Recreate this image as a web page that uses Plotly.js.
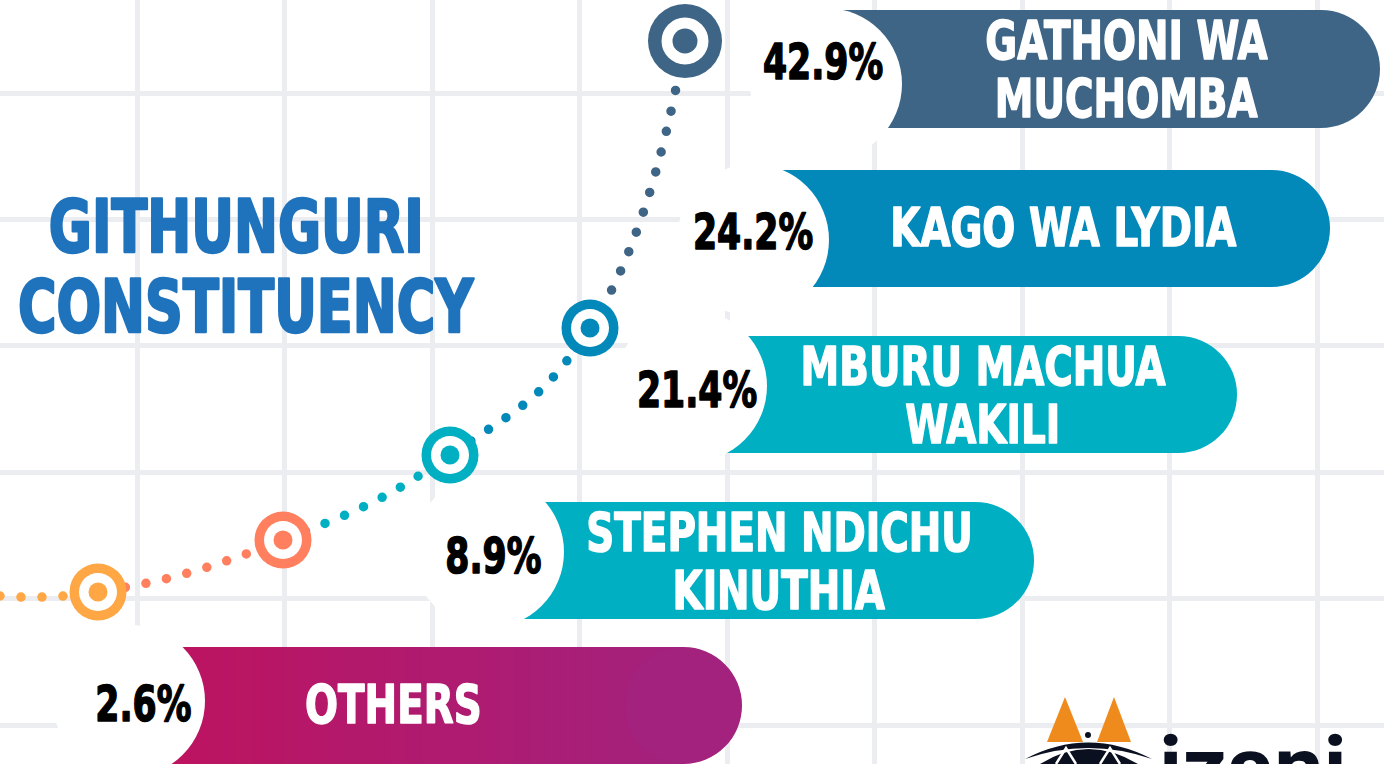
<!DOCTYPE html>
<html>
<head>
<meta charset="utf-8">
<script src="https://cdn.plot.ly/plotly-3.0.1.min.js"></script>
<style>
  html, body { margin: 0; padding: 0; background: #ffffff; overflow: hidden; }
  #chart { width: 1384px; height: 764px; }
</style>
</head>
<body>
<div id="chart"></div>
<script>
// ---------------- DATA ----------------
var titleLines = ['GITHUNGURI', 'CONSTITUENCY'];
var candidates = ['GATHONI WA<br>MUCHOMBA', 'KAGO WA LYDIA', 'MBURU MACHUA<br>WAKILI', 'STEPHEN NDICHU<br>KINUTHIA', 'OTHERS'];
var shares = [42.9, 24.2, 21.4, 8.9, 2.6];

// ---------------- STYLE ----------------
var pillColors = ['#3E6585', '#0288B9', '#01AFC3', '#01AFC3', null];
var othersGradient = ['#BC1461', '#A02380'];
var markerColors = ['#3E6585', '#0288B9', '#01AFC3', '#FF7F5F', '#FFA645'];
var titleColor = '#1F73BC';
var gridColor = '#ECEDF0';
var condensed = "'DejaVu Sans Condensed', 'DejaVu Sans', sans-serif";
var squeeze = {title: 0.80, pct: 0.77, label: 0.80, logo: 1.0};   // horizontal condensing of the bold face
var heavy = {title: 2.6, pct: 1.5, label: 1.5, logo: 0};         // extra stroke to mimic the heavy display face

// ---------------- DECORATIVE LAYOUT (pixel space of the 1384x764 canvas) ----------------
var W = 1384, H = 764;
var pillTop    = [10, 170, 336, 502, 647];
var pillBottom = [128, 287, 453, 619, 764];
var pillRight  = [1380, 1330, 1237, 1034, 742];
var badgeX = [826, 753, 691, 488, 129];
var badgeY = [84, 240, 386, 552, 701];
var badgeR = 76;
var pctX = [823, 753, 697, 493, 143];
var pctY = [62, 232, 390, 556, 704];
var labelX = [1126, 1063, 983, 779, 393];
var labelLinePitch = 58;
var markerX = [685, 590, 450, 283, 98];
var markerY = [41, 328, 455, 540, 592];
var markerOuter = [74, 57, 57, 57, 57];
var markerWhite = [47, 38, 38, 38, 38];
var markerInner = [25, 19, 19, 19, 19];
var lineStart = [0, 596];
var titleX = [236, 246], titleY = [226, 306];

// ---------------- helpers ----------------
function hex2rgb(h) { return [parseInt(h.substr(1,2),16), parseInt(h.substr(3,2),16), parseInt(h.substr(5,2),16)]; }
function mix(a, b, t) {
  var A = hex2rgb(a), B = hex2rgb(b);
  return 'rgb(' + Math.round(A[0]+(B[0]-A[0])*t) + ',' + Math.round(A[1]+(B[1]-A[1])*t) + ',' + Math.round(A[2]+(B[2]-A[2])*t) + ')';
}

// ---------------- shapes: pills & badges ----------------
var shapes = [];
for (var i = 0; i < candidates.length; i++) {
  var t = pillTop[i], b = pillBottom[i], r = (b - t) / 2, right = pillRight[i], left = badgeX[i];
  if (pillColors[i]) {
    shapes.push({type: 'rect', layer: 'between', xref: 'x', yref: 'y', x0: left, x1: right - r, y0: t, y1: b,
                 fillcolor: pillColors[i], line: {width: 0}});
    shapes.push({type: 'circle', layer: 'between', xref: 'x', yref: 'y', x0: right - 2*r, x1: right, y0: t, y1: b,
                 fillcolor: pillColors[i], line: {width: 0}});
  } else {
    var gx0 = left + badgeR * 0.7, gx1 = right;
    var n = 36, span = (right - r) - left;
    for (var k = 0; k < n; k++) {
      var xa = left + span * k / n, xb = left + span * (k + 1) / n;
      var tt = Math.max(0, Math.min(1, ((xa + xb) / 2 - gx0) / (gx1 - gx0)));
      shapes.push({type: 'rect', layer: 'between', xref: 'x', yref: 'y', x0: xa, x1: xb + 1, y0: t, y1: b,
                   fillcolor: mix(othersGradient[0], othersGradient[1], tt), line: {width: 0}});
    }
    shapes.push({type: 'circle', layer: 'between', xref: 'x', yref: 'y', x0: right - 2*r, x1: right, y0: t, y1: b,
                 fillcolor: mix(othersGradient[0], othersGradient[1], 0.93), line: {width: 0}});
  }
  shapes.push({type: 'circle', layer: 'between', xref: 'x', yref: 'y',
               x0: badgeX[i] - badgeR, x1: badgeX[i] + badgeR, y0: badgeY[i] - badgeR, y1: badgeY[i] + badgeR,
               fillcolor: '#ffffff', line: {width: 0}});
}

// logo (decorative mark, bottom right)
var logoOrange = '#EF8A1D', logoDark = '#0B1020';
shapes.push({type: 'path', layer: 'above', xref: 'x', yref: 'y', path: 'M1047,742 L1065,697 L1083,742 Z', fillcolor: logoOrange, line: {width: 0}});
shapes.push({type: 'path', layer: 'above', xref: 'x', yref: 'y', path: 'M1097,742 L1114,697 L1131,742 Z', fillcolor: logoOrange, line: {width: 0}});
shapes.push({type: 'circle', layer: 'above', xref: 'x', yref: 'y', x0: 1085, x1: 1091, y0: 732, y1: 738, fillcolor: logoDark, line: {width: 0}});
shapes.push({type: 'path', layer: 'above', xref: 'x', yref: 'y', path: 'M1025,759 Q1088,726 1152,759 Q1088,737 1025,759 Z', fillcolor: logoDark, line: {width: 0}});
shapes.push({type: 'path', layer: 'above', xref: 'x', yref: 'y', path: 'M1040,764 Q1088,734 1138,764 Z', fillcolor: logoDark, line: {width: 0}});
shapes.push({type: 'path', layer: 'above', xref: 'x', yref: 'y', path: 'M1056,764 L1066,748 L1076,764 M1100,764 L1110,748 L1120,764', line: {color: '#ffffff', width: 2.5}});

// ---------------- traces: dotted connector & target markers ----------------
var lineX = [lineStart[0]].concat(markerX.slice().reverse());
var lineY = [lineStart[1]].concat(markerY.slice().reverse());
var traces = [
  {type: 'scatter', mode: 'lines', x: lineX, y: lineY, hoverinfo: 'skip', showlegend: false,
   line: {shape: 'spline', smoothing: 1.3, width: 9.5, dash: '0px,21px', color: markerColors[0]}},
  {type: 'scatter', mode: 'markers', x: markerX, y: markerY, hoverinfo: 'skip', showlegend: false,
   marker: {size: markerOuter, color: markerColors, opacity: 1, line: {width: 0}}},
  {type: 'scatter', mode: 'markers', x: markerX, y: markerY, hoverinfo: 'skip', showlegend: false,
   marker: {size: markerWhite, color: '#ffffff', opacity: 1, line: {width: 0}}},
  {type: 'scatter', mode: 'markers', x: markerX, y: markerY, hoverinfo: 'skip', showlegend: false,
   marker: {size: markerInner, color: markerColors, opacity: 1, line: {width: 0}}}
];

// ---------------- annotations ----------------
var annotations = [], annSqueeze = [], annHeavy = [];
titleLines.forEach(function (txt, j) {
  annotations.push({xref: 'x', yref: 'y', x: titleX[j], y: titleY[j], text: txt, showarrow: false,
    xanchor: 'center', yanchor: 'middle', font: {family: condensed, size: 73, color: titleColor, weight: 700}});
  annSqueeze.push(squeeze.title); annHeavy.push(heavy.title);
});
shares.forEach(function (v, i) {
  annotations.push({xref: 'x', yref: 'y', x: pctX[i], y: pctY[i], text: v.toFixed(1) + '%', showarrow: false,
    xanchor: 'center', yanchor: 'middle', font: {family: condensed, size: 50, color: '#000000', weight: 700}});
  annSqueeze.push(squeeze.pct); annHeavy.push(heavy.pct);
});
candidates.forEach(function (name, i) {
  var lines = name.split('<br>');
  var cy = (pillTop[i] + pillBottom[i]) / 2 + (lines.length > 1 ? 0.5 : -1);
  lines.forEach(function (ln, j) {
    var y = cy + (j - (lines.length - 1) / 2) * labelLinePitch;
    annotations.push({xref: 'x', yref: 'y', x: labelX[i], y: y, text: ln, showarrow: false,
      xanchor: 'center', yanchor: 'middle', font: {family: condensed, size: 54, color: '#ffffff', weight: 700}});
    annSqueeze.push(squeeze.label); annHeavy.push(heavy.label);
  });
});
annotations.push({xref: 'x', yref: 'y', x: 1253, y: 714, text: 'izani', showarrow: false,
  xanchor: 'center', yanchor: 'top', font: {family: 'Roboto, sans-serif', size: 88, color: logoDark, weight: 700}});
annSqueeze.push(squeeze.logo); annHeavy.push(heavy.logo);

// ---------------- layout ----------------
var layout = {
  width: W, height: H,
  margin: {l: 0, r: 0, t: 0, b: 0, pad: 0},
  paper_bgcolor: '#ffffff', plot_bgcolor: '#ffffff',
  showlegend: false,
  xaxis: {range: [0, W], showgrid: true, gridcolor: gridColor, gridwidth: 5, tick0: 137, dtick: 147.5,
          zeroline: false, showline: false, showticklabels: false, ticks: '', fixedrange: true},
  yaxis: {range: [H, 0], showgrid: true, gridcolor: gridColor, gridwidth: 5, tick0: 93, dtick: 126.4,
          zeroline: false, showline: false, showticklabels: false, ticks: '', fixedrange: true},
  shapes: shapes,
  annotations: annotations
};

Plotly.newPlot('chart', traces, layout, {staticPlot: true, displayModeBar: false}).then(function (gd) {
  // condense & thicken the bold face (the poster uses a heavy condensed display font)
  annSqueeze.forEach(function (f, idx) {
    var g = gd.querySelector('.annotation[data-index="' + idx + '"]');
    if (!g) return;
    var tx = g.querySelector('text.annotation-text');
    if (!tx) return;
    if (f !== 1) {
      var len = tx.getComputedTextLength();
      tx.setAttribute('textLength', (len * f).toFixed(1));
      tx.setAttribute('lengthAdjust', 'spacingAndGlyphs');
    }
    if (annHeavy[idx] > 0) {
      tx.style.stroke = annotations[idx].font.color;
      tx.style.strokeWidth = annHeavy[idx] + 'px';
      tx.style.strokeLinejoin = 'round';
    }
  });

  // colour the dotted connector by segment (each run takes the colour of the marker it climbs to)
  var ns = 'http://www.w3.org/2000/svg';
  var svg = gd.querySelector('svg.main-svg');
  var path = gd.querySelector('.scatterlayer .trace path.js-line');
  if (!svg || !path) return;
  var defs = svg.querySelector('defs');
  if (!defs) { defs = document.createElementNS(ns, 'defs'); svg.insertBefore(defs, svg.firstChild); }
  var grad = document.createElementNS(ns, 'linearGradient');
  grad.setAttribute('id', 'dotSegments');
  grad.setAttribute('gradientUnits', 'userSpaceOnUse');
  grad.setAttribute('x1', '0'); grad.setAttribute('y1', '0');
  grad.setAttribute('x2', String(W)); grad.setAttribute('y2', '0');
  var bounds = markerX.slice().reverse();        // 98, 283, 450, 590, 685
  var cols = markerColors.slice().reverse();     // orange, salmon, teal, blue, slate
  var prev = 0;
  for (var s = 0; s < cols.length; s++) {
    var end = (s < cols.length - 1) ? bounds[s] / W : 1;
    [prev, end].forEach(function (off) {
      var st = document.createElementNS(ns, 'stop');
      st.setAttribute('offset', off);
      st.setAttribute('stop-color', cols[s]);
      grad.appendChild(st);
    });
    prev = end;
  }
  defs.appendChild(grad);
  path.style.stroke = 'url(#dotSegments)';
  path.style.strokeLinecap = 'round';
});
</script>
</body>
</html>
